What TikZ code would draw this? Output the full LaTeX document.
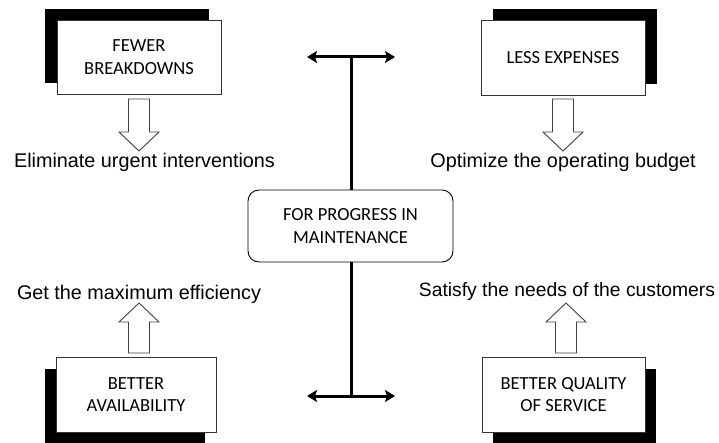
\documentclass[tikz,border=0pt]{standalone}
\usepackage{fontspec}
\setmainfont{Carlito}
\newfontfamily\labelfont{Liberation Sans}
\usetikzlibrary{arrows.meta,shadows}
\tikzset{
  boxtext/.style={font=\fontsize{18.5}{22.6}\selectfont, align=center},
  mainbox/.style={draw=black!80, line width=0.9pt, fill=white, boxtext, minimum width=164pt, minimum height=74pt, inner sep=0pt},
  shadowTL/.style={general shadow={fill=black, shadow xshift=-12pt, shadow yshift=11pt}},
  shadowTR/.style={general shadow={fill=black, shadow xshift=12pt, shadow yshift=11pt}},
  shadowBL/.style={general shadow={fill=black, shadow xshift=-11pt, shadow yshift=-12pt}},
  shadowBR/.style={general shadow={fill=black, shadow xshift=11pt, shadow yshift=-12pt}},
  centerbox/.style={draw=black, line width=0.9pt, fill=white, rounded corners=11pt, boxtext, minimum width=205pt, minimum height=72pt, inner sep=0pt},
  labeltext/.style={font=\labelfont\fontsize{19.8}{24}\selectfont, anchor=base, inner sep=0pt},
  blockarrow/.style={draw=black!75, line width=0.9pt, fill=white},
  spine/.style={line width=3pt, black},
  bar/.style={line width=3pt, black, {Stealth[length=10pt,width=12pt,inset=2pt]}-{Stealth[length=10pt,width=12pt,inset=2pt]}},
  downarrow/.pic={\draw[blockarrow] (-10.5,0) -- (10.5,0) -- (10.5,33) -- (20,33) -- (0,52) -- (-20,33) -- (-10.5,33) -- cycle;},
  uparrow/.pic={\draw[blockarrow] (-10.5,0) -- (10.5,0) -- (10.5,-31) -- (20,-31) -- (0,-50) -- (-20,-31) -- (-10.5,-31) -- cycle;}
}
\begin{document}
\begin{tikzpicture}[x=1pt,y=-1pt]
\useasboundingbox (0,0) rectangle (719,443);

% boxes
\node[mainbox, shadowTL] (fb) at (139,57) {FEWER\\BREAKDOWNS};
\node[mainbox, shadowTR, minimum height=75pt] (le) at (563,57.5) {LESS EXPENSES};
\node[mainbox, shadowBL, minimum width=160pt, minimum height=75pt] (ba) at (136,394.5) {BETTER\\AVAILABILITY};
\node[mainbox, shadowBR, minimum width=163pt, minimum height=75pt] (bq) at (563.5,394.5) {BETTER QUALITY\\OF SERVICE};

% central
\node[centerbox] (c) at (350.5,226) {FOR PROGRESS IN\\MAINTENANCE};
\coordinate (tl) at (307,57);
\coordinate (tr) at (395,57);
\coordinate (tm) at (351,57);
\coordinate (bl) at (307,396);
\coordinate (br) at (395,396);
\coordinate (bm) at (351,396);
\draw[spine] (tm) -- (tm |- c.north);
\draw[spine] (bm) -- (bm |- c.south);
\draw[bar] (tl) -- (tr);
\draw[bar] (bl) -- (br);

% block arrows
\pic at (139,99) {downarrow};
\pic at (563,99) {downarrow};
\pic at (139,353) {uparrow};
\pic at (566,353) {uparrow};

% labels
\node[labeltext] (l1) at (144.5,168) {Eliminate urgent interventions};
\node[labeltext] (l2) at (563,168) {Optimize the operating budget};
\node[labeltext] (l3) at (139,299) {Get the maximum efficiency};
\node[labeltext, font=\labelfont\fontsize{19.3}{24}\selectfont] (l4) at (567,296) {Satisfy the needs of the customers};
\end{tikzpicture}
\end{document}
